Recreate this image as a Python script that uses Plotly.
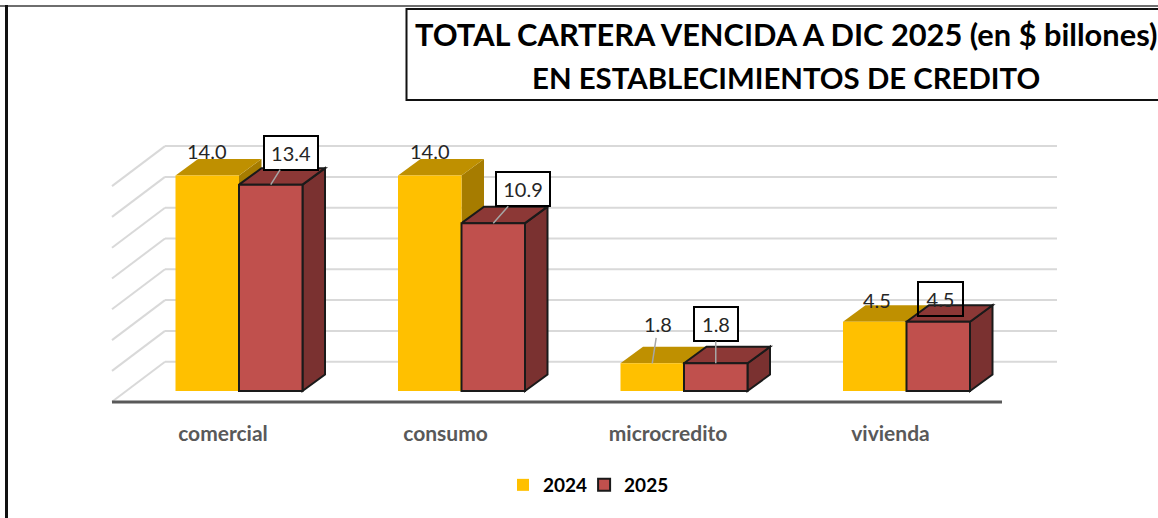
import plotly.graph_objects as go

categories = ["comercial", "consumo", "microcredito", "vivienda"]
values_2024 = [14.0, 14.0, 1.8, 4.5]
values_2025 = [13.4, 10.9, 1.8, 4.5]
grid_values = [0, 2, 4, 6, 8, 10, 12, 14]

W, H = 1158, 518
PX_X = 222.5          # pixels per category
PX_Y = 15.4           # pixels per value unit
X0_PX, Y0_PX, AXIS_PX, PLOT_BOTTOM_PX = 239, 391, 402, 412
BAR_W = 63.5 / PX_X
DX, DY = 22.5 / PX_X, 16.5 / PX_Y
BACK_X, BACK_Y = -74 / PX_X, 29.3 / PX_Y
DIAG_X, DIAG_Y = -53 / PX_X, -40 / PX_Y
GRID_END = (1057 - X0_PX) / PX_X
AXIS_L, AXIS_R = (112 - X0_PX) / PX_X, (1002 - X0_PX) / PX_X
AXIS_Y = (Y0_PX - AXIS_PX) / PX_Y

GOLD, GOLD_TOP, GOLD_SIDE = "#FFC000", "#BF9000", "#A67C00"
RED, RED_TOP, RED_SIDE = "#C0504D", "#8C3836", "#7A3130"
GRID = "#D9D9D9"
LABEL = "#262626"
FONT = "Lato"


def poly(pts):
    return "M" + " L".join(f"{x:.5f},{y:.5f}" for x, y in pts) + " Z"


shapes = []
def paper_rect(x0, y0, x1, y1, **kw):
    shapes.append(dict(type="rect", xref="paper", yref="paper", x0=x0 / W, x1=x1 / W,
                       y0=1 - y0 / H, y1=1 - y1 / H, **kw))

# page frame
shapes.append(dict(type="line", xref="paper", yref="paper", x0=0, x1=1, y0=1 - 6 / H, y1=1 - 6 / H,
                   line=dict(color="#6E6E6E", width=2), layer="above"))
shapes.append(dict(type="line", xref="paper", yref="paper", x0=6.5 / W, x1=6.5 / W, y0=0, y1=1 - 5 / H,
                   line=dict(color="#111111", width=3), layer="above"))

# back wall grid
for g in grid_values:
    y = g + BACK_Y
    shapes.append(dict(type="line", xref="x", yref="y", x0=BACK_X, x1=GRID_END, y0=y, y1=y,
                       line=dict(color=GRID, width=2), layer="below"))
    shapes.append(dict(type="line", xref="x", yref="y", x0=BACK_X, x1=BACK_X + DIAG_X,
                       y0=y, y1=y + DIAG_Y, line=dict(color=GRID, width=2), layer="below"))


def faces(i, v, left, top_c, side_c, line):
    x0, x1 = i + left, i + left + BAR_W
    top = [(x0, v), (x0 + DX, v + DY), (x1 + DX, v + DY), (x1, v)]
    side = [(x1, 0), (x1 + DX, DY), (x1 + DX, v + DY), (x1, v)]
    for pts, c in ((side, side_c), (top, top_c)):
        shapes.append(dict(type="path", xref="x", yref="y", path=poly(pts), fillcolor=c,
                           line=line, layer="below"))


for i, v in enumerate(values_2024):
    faces(i, v, -BAR_W, GOLD_TOP, GOLD_SIDE, dict(width=0))
for i, v in enumerate(values_2025):
    faces(i, v, 0, RED_TOP, RED_SIDE, dict(color="#1A1A1A", width=2))

# category axis line
shapes.append(dict(type="line", xref="x", yref="y", x0=AXIS_L, x1=AXIS_R, y0=AXIS_Y, y1=AXIS_Y,
                   line=dict(color="#595959", width=3), layer="below"))

fig = go.Figure()
xs = list(range(len(categories)))
fig.add_bar(x=xs, y=values_2024, name="2024", marker=dict(color=GOLD, line_width=0))
fig.add_bar(x=xs, y=values_2025, name="2025", marker=dict(color=RED, line=dict(color="#1A1A1A", width=2)))

annotations = []
# label offsets in pixels from the middle of the bar's top edge
offsets_2024 = [(0, -24), (0, -24), (6, -39), (2, -22)]
offsets_2025 = [(20, -32), (30, -34), (0, -39), (2, -23)]
leader_2025 = [True, True, True, False]
box_w_2025 = [50, 50, 40, 41]
box_fill_2025 = ["#FFFFFF", "#FFFFFF", "#FFFFFF", "rgba(0,0,0,0)"]
label_font = dict(family=FONT, size=20, color=LABEL)

for i, (v, (ox, oy)) in enumerate(zip(values_2024, offsets_2024)):
    a = dict(x=i - BAR_W / 2, y=v, xref="x", yref="y", text=f"{v:.1f}", font=label_font)
    if categories[i] == "microcredito":
        a.update(showarrow=True, arrowhead=0, arrowwidth=1.5, arrowcolor="#A6A6A6", ax=ox, ay=oy, standoff=0)
    else:
        a.update(showarrow=False, xshift=ox, yshift=-oy)
    annotations.append(a)

for i, (v, (ox, oy)) in enumerate(zip(values_2025, offsets_2025)):
    a = dict(x=i + BAR_W / 2, y=v, xref="x", yref="y", text=f"{v:.1f}", font=label_font,
             width=box_w_2025[i], height=30, align="center", valign="middle",
             bgcolor=box_fill_2025[i], bordercolor="#000000", borderwidth=2, borderpad=1)
    if leader_2025[i]:
        a.update(showarrow=True, arrowhead=0, arrowwidth=1.5, arrowcolor="#A6A6A6", ax=ox, ay=oy, standoff=0)
    else:
        a.update(showarrow=False, xshift=ox, yshift=-oy)
    annotations.append(a)

# title box
paper_rect(406.5, 9, W + 5, 100, fillcolor="#FFFFFF", line=dict(color="#111111", width=2), layer="above")
title_lines = ["TOTAL CARTERA VENCIDA A DIC 2025 (en $ billones)", "EN ESTABLECIMIENTOS DE CREDITO"]
for text, yc, size in zip(title_lines, (35, 77), (30.8, 29.4)):
    annotations.append(dict(x=786 / W, y=1 - yc / H, xref="paper", yref="paper", text=f"<b>{text}</b>",
                            showarrow=False, xanchor="center", yanchor="middle",
                            font=dict(family=FONT, size=size, color="#000000")))

fig.update_layout(
    width=W, height=H, margin=dict(l=0, r=0, t=0, b=0),
    paper_bgcolor="#FFFFFF", plot_bgcolor="rgba(0,0,0,0)",
    barmode="group", bargap=1 - 2 * BAR_W, bargroupgap=0,
    shapes=shapes, annotations=annotations,
    hovermode=False,
    showlegend=True,
    legend=dict(orientation="h", x=511 / W, y=1 - 485 / H, xanchor="left", yanchor="middle",
                font=dict(family=FONT, size=19, color="#000000", weight=700),
                indentation=-8, itemwidth=30,
                bgcolor="rgba(0,0,0,0)", traceorder="normal"),
    xaxis=dict(range=[-X0_PX / PX_X, (W - X0_PX) / PX_X], domain=[0, 1], showgrid=False, zeroline=False,
               showline=False, tickmode="array", tickvals=[i - 16 / PX_X for i in xs], ticktext=categories,
               ticks="outside", ticklen=3, tickcolor="rgba(0,0,0,0)",
               tickfont=dict(family=FONT, size=21, color="#595959", weight=700)),
    yaxis=dict(range=[(Y0_PX - PLOT_BOTTOM_PX) / PX_Y, Y0_PX / PX_Y], domain=[1 - PLOT_BOTTOM_PX / H, 1],
               visible=False, showgrid=False, zeroline=False),
)

fig.write_html("out.html", config=dict(displayModeBar=False),
               post_script="document.body.style.margin='0';document.body.style.overflow='hidden';")
